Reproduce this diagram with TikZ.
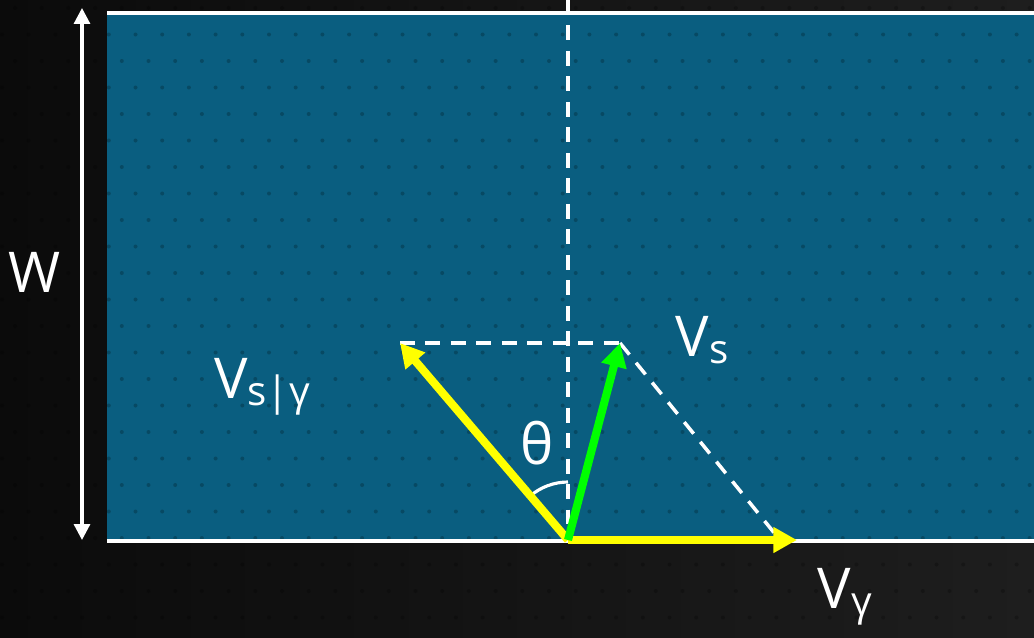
\documentclass[tikz,border=0pt]{standalone}
\usepackage{fontspec}
\setmainfont{Open Sans}
\usetikzlibrary{arrows.meta}
\definecolor{riverblue}{HTML}{0A5E80}
\definecolor{bgleft}{HTML}{0B0B0B}
\definecolor{bgright}{HTML}{1E1E1E}
\definecolor{vecyellow}{HTML}{FFFF00}
\definecolor{vecgreen}{HTML}{00FF00}
\newcommand{\lowsub}[1]{\raisebox{-0.12em}{\fontsize{23}{23}\selectfont #1}}
\begin{document}
\begin{tikzpicture}[x=0.02cm, y=0.02cm,
  lbl/.style={text=white, inner sep=0pt, font=\fontsize{32}{36}\selectfont},
  vec/.style={line width=4.6pt, -{Triangle[length=13.5pt,width=14pt]}},
  guide/.style={white, line width=2pt, dash pattern=on 8.5pt off 6pt},
  edge/.style={white, line width=2.4pt}]
% background and river
\shade[left color=bgleft, right color=bgright] (0,0) rectangle (1034,637);
\useasboundingbox (0,0) rectangle (1034,637);
\fill[riverblue] (107,96) rectangle (1034,624);
\foreach \j [evaluate=\j as \dx using {13*(1-mod(\j,2))}] in {0,...,23}
  \foreach \i in {0,...,39}
    \fill[black, opacity=0.22] (2+\dx+26.7*\i, 629-26.5*\j) circle (2);
\draw[edge] (107,624) -- (1034,624);
\draw[edge] (107,96) -- (1034,96);
% points
\coordinate (o) at (568,97);
\coordinate (vstip) at (620,294);
\coordinate (vsrtip) at (400,294);
\coordinate (vrtip) at (797,97);
\coordinate (ptop) at (568,637);
\coordinate (pdiag) at (780,97);
\coordinate (wtop) at (82,629);
\coordinate (wbot) at (82,97);
% width
\draw[white, line width=1.8pt, {Triangle[length=9pt,width=9pt]}-{Triangle[length=9pt,width=9pt]}] (wbot) -- (wtop);
% guides
\draw[guide] (ptop) -- (o);
\draw[guide] (vsrtip) -- (vstip);
\draw[guide] (vstip) -- (pdiag);
\draw[white, line width=1.8pt] ([shift={(90:58)}]o) arc[start angle=90, end angle=130.5, radius=58];
% vectors
\draw[vec, vecyellow] (o) -- (vrtip);
\draw[vec, vecyellow] (o) -- (vsrtip);
\draw[vec, vecgreen] (o) -- (vstip);
% labels
\node[lbl] (w) at (35,365) {W};
\node[lbl] (vs) at (702,297) {V\lowsub{s}};
\node[lbl] (vsr) at (262,250) {V\lowsub{s|γ}};
\node[lbl] (th) at (537,194) {θ};
\node[lbl] (vr) at (845,40) {V\lowsub{γ}};
\end{tikzpicture}
\end{document}
